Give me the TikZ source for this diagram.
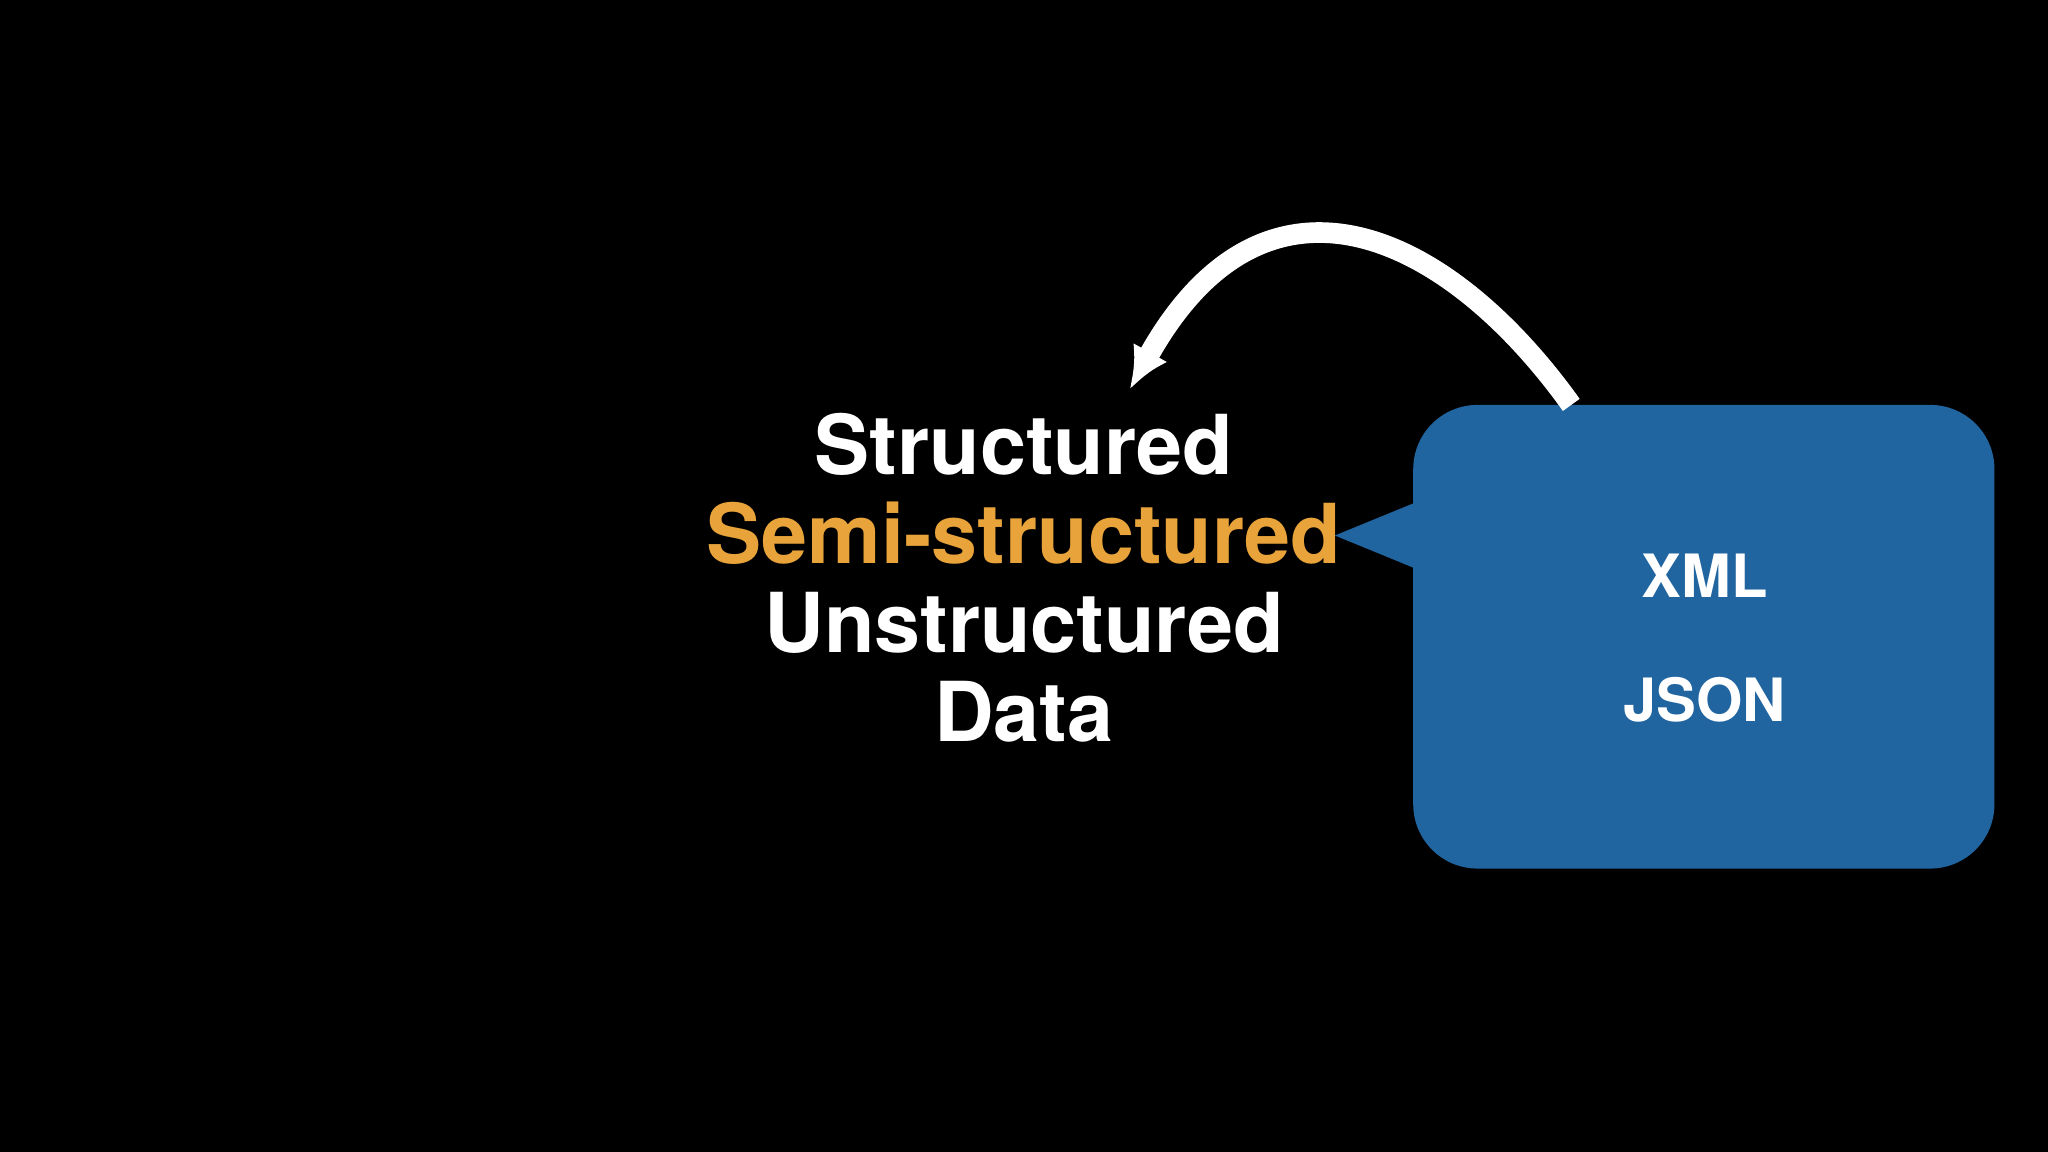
\documentclass[tikz,border=0pt]{standalone}
\usepackage{fontspec}
\setmainfont{TeX Gyre Heros}
\usetikzlibrary{arrows.meta}
\definecolor{boxblue}{HTML}{2065A0}
\definecolor{semi}{HTML}{E8A33A}
\begin{document}
\begin{tikzpicture}[x=0.01cm,y=-0.01cm,
  big/.style={font=\fontsize{18}{20}\selectfont\bfseries,text=white,inner sep=0pt},
  small/.style={font=\fontsize{13}{15}\selectfont\bfseries,text=white,inner sep=0pt}]
\fill[black] (0,0) rectangle (1568,882);
\useasboundingbox (0,0) rectangle (1568,882);
\node[big] (s) at (784,340) {Structured};
\node[big,text=semi] (ss) at (784,408) {Semi-structured};
\node[big] (u) at (784,477) {Unstructured};
\node[big] (d) at (784,545) {Data};
\fill[boxblue,rounded corners=14] (1082,310) rectangle (1527,665);
\fill[boxblue] (1083,385) -- (1022,410) -- (1083,435) -- cycle;
\node[small] (x) at (1305,441) {XML};
\node[small] (j) at (1305,536) {JSON};
\coordinate (a) at (1203,310);
\coordinate (b) at (865,298);
\draw[white,line width=4.5,-{Latex[length=0.32cm,width=0.3cm]}]
  (a) .. controls (1110,180) and (970,110) .. (b);
\end{tikzpicture}
\end{document}
